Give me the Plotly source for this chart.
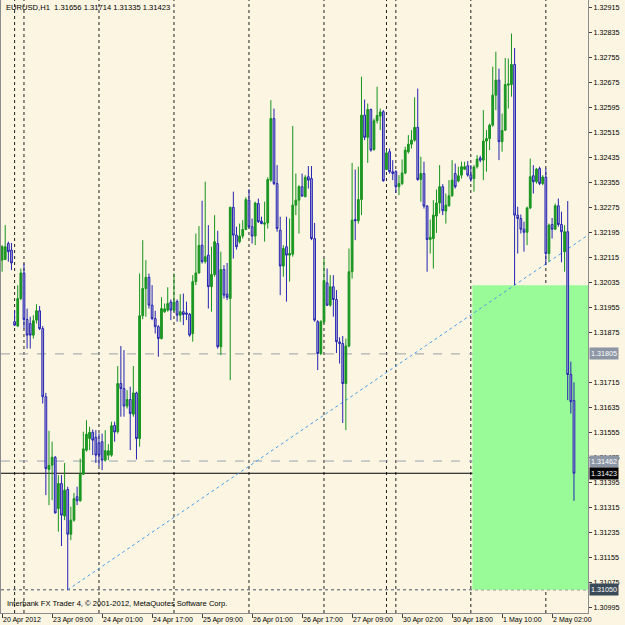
import plotly.graph_objects as go
import pandas as pd

symbol = "EURUSD,H1"
copyright_text = "Interbank FX Trader 4, \u00a9 2001-2012, MetaQuotes Software Corp."

# trading sessions visible on the chart (start, number of hourly bars)
sessions = [("2012-04-20 16:00", 4), ("2012-04-22 21:00", 3), ("2012-04-23 00:00", 116),
            ("2012-04-29 21:00", 3), ("2012-04-30 00:00", 58)]
times = []
for start, n in sessions:
    times += list(pd.date_range(start, periods=n, freq="h"))

opens = [1.32105, 1.32107, 1.32158, 1.32137, 1.31908, 1.31894, 1.31982, 1.32064, 1.31915, 1.31902,
         1.31865, 1.31913, 1.31943, 1.31886, 1.31668, 1.31435, 1.31449, 1.31474, 1.31310, 1.31390,
         1.31286, 1.31371, 1.31228, 1.31273, 1.31348, 1.31335, 1.31420, 1.31497, 1.31534, 1.31554,
         1.31538, 1.31520, 1.31524, 1.31465, 1.31481, 1.31481, 1.31576, 1.31556, 1.31710, 1.31694,
         1.31638, 1.31659, 1.31612, 1.31680, 1.31534, 1.31927, 1.32014, 1.32050, 1.31961, 1.31918,
         1.31892, 1.31854, 1.31940, 1.31945, 1.31971, 1.31945, 1.31973, 1.31929, 1.31940, 1.31936,
         1.31932, 1.31870, 1.32036, 1.32064, 1.32153, 1.32100, 1.32121, 1.32020, 1.32059, 1.32158,
         1.31828, 1.32075, 1.31996, 1.31982, 1.32274, 1.32185, 1.32164, 1.32182, 1.32203, 1.32297,
         1.32212, 1.32182, 1.32286, 1.32230, 1.32220, 1.32224, 1.32361, 1.32558, 1.32350, 1.32201,
         1.32086, 1.32148, 1.32121, 1.32124, 1.32281, 1.32297, 1.32340, 1.32308, 1.32372, 1.32366,
         1.32174, 1.31908, 1.31806, 1.31908, 1.32032, 1.31961, 1.32020, 1.31979, 1.31843, 1.31838,
         1.31710, 1.31830, 1.32068, 1.32235, 1.32231, 1.32299, 1.32569, 1.32498, 1.32587, 1.32459,
         1.32551, 1.32566, 1.32580, 1.32395, 1.32452, 1.32388, 1.32388, 1.32340, 1.32350, 1.32384,
         1.32452, 1.32476, 1.32489, 1.32530, 1.32363, 1.32382, 1.32278, 1.32171, 1.32174, 1.32246,
         1.32288, 1.32340, 1.32262, 1.32279, 1.32311, 1.32382, 1.32358, 1.32377, 1.32396, 1.32407,
         1.32377, 1.32366, 1.32404, 1.32432, 1.32425, 1.32486, 1.32494, 1.32537, 1.32633, 1.32681,
         1.32484, 1.32521, 1.32665, 1.32667, 1.32731, 1.32249, 1.32238, 1.32204, 1.32194, 1.32272,
         1.32375, 1.32356, 1.32398, 1.32350, 1.32371, 1.32126, 1.32219, 1.32204, 1.32279, 1.32219,
         1.32132, 1.32196, 1.31739, 1.31656]
highs = [1.32153, 1.32217, 1.32164, 1.32160, 1.31945, 1.32025, 1.32078, 1.32094, 1.31950, 1.31924,
         1.31929, 1.31964, 1.31958, 1.31894, 1.31680, 1.31559, 1.31524, 1.31478, 1.31417, 1.31417,
         1.31456, 1.31380, 1.31316, 1.31360, 1.31380, 1.31470, 1.31556, 1.31593, 1.31572, 1.31563,
         1.31561, 1.31550, 1.31550, 1.31561, 1.31516, 1.31588, 1.31588, 1.31766, 1.31830, 1.31817,
         1.31689, 1.31700, 1.31766, 1.31684, 1.32062, 1.32169, 1.32105, 1.32062, 1.32025, 1.31943,
         1.31897, 1.31986, 1.31966, 1.32018, 1.31979, 1.32062, 1.31979, 1.31996, 1.31998, 1.31972,
         1.31936, 1.32057, 1.32190, 1.32214, 1.32295, 1.32356, 1.32217, 1.32148, 1.32249, 1.32199,
         1.32132, 1.32089, 1.32096, 1.32276, 1.32324, 1.32212, 1.32222, 1.32233, 1.32306, 1.32332,
         1.32238, 1.32292, 1.32302, 1.32244, 1.32292, 1.32370, 1.32617, 1.32590, 1.32409, 1.32244,
         1.32153, 1.32244, 1.32238, 1.32534, 1.32382, 1.32345, 1.32382, 1.32377, 1.32406, 1.32406,
         1.32224, 1.31913, 1.31913, 1.32110, 1.32078, 1.32057, 1.32057, 1.32009, 1.31858, 1.31862,
         1.31854, 1.32142, 1.32416, 1.32395, 1.32404, 1.32692, 1.32619, 1.32606, 1.32590, 1.32558,
         1.32660, 1.32590, 1.32585, 1.32457, 1.32462, 1.32425, 1.32393, 1.32377, 1.32427, 1.32468,
         1.32505, 1.32521, 1.32626, 1.32654, 1.32436, 1.32420, 1.32281, 1.32235, 1.32297, 1.32331,
         1.32409, 1.32348, 1.32318, 1.32361, 1.32425, 1.32414, 1.32404, 1.32420, 1.32420, 1.32422,
         1.32409, 1.32409, 1.32441, 1.32439, 1.32585, 1.32521, 1.32542, 1.32724, 1.32772, 1.32718,
         1.32574, 1.32752, 1.32750, 1.32830, 1.32784, 1.32276, 1.32251, 1.32228, 1.32276, 1.32430,
         1.32409, 1.32400, 1.32404, 1.32377, 1.32398, 1.32222, 1.32240, 1.32286, 1.32302, 1.32260,
         1.32217, 1.32294, 1.31780, 1.31714]
lows = [1.32068, 1.32105, 1.32100, 1.32073, 1.31894, 1.31892, 1.31977, 1.31886, 1.31822, 1.31822,
        1.31854, 1.31902, 1.31881, 1.31646, 1.31353, 1.31321, 1.31337, 1.31294, 1.31236, 1.31190,
        1.31273, 1.31050, 1.31209, 1.31268, 1.31321, 1.31332, 1.31417, 1.31492, 1.31497, 1.31481,
        1.31456, 1.31446, 1.31433, 1.31460, 1.31465, 1.31476, 1.31524, 1.31550, 1.31604, 1.31604,
        1.31630, 1.31497, 1.31604, 1.31467, 1.31508, 1.31916, 1.31924, 1.31950, 1.31913, 1.31870,
        1.31796, 1.31851, 1.31936, 1.31940, 1.31913, 1.31940, 1.31908, 1.31908, 1.31897, 1.31913,
        1.31860, 1.31844, 1.32025, 1.32062, 1.32094, 1.32094, 1.31950, 1.31940, 1.32052, 1.31822,
        1.31801, 1.31982, 1.31977, 1.31721, 1.32110, 1.32139, 1.32158, 1.32174, 1.32201, 1.32206,
        1.32158, 1.32153, 1.32224, 1.32220, 1.32164, 1.32206, 1.32356, 1.32345, 1.32196, 1.31993,
        1.32052, 1.31972, 1.32036, 1.32116, 1.32249, 1.32190, 1.32308, 1.32306, 1.32334, 1.32169,
        1.31908, 1.31753, 1.31801, 1.31902, 1.31958, 1.31956, 1.31924, 1.31808, 1.31774, 1.31584,
        1.31561, 1.31826, 1.32046, 1.32169, 1.32222, 1.32249, 1.32489, 1.32416, 1.32452, 1.32455,
        1.32542, 1.32521, 1.32356, 1.32393, 1.32382, 1.32361, 1.32320, 1.32313, 1.32345, 1.32380,
        1.32446, 1.32462, 1.32484, 1.32359, 1.32292, 1.32270, 1.32068, 1.32126, 1.32078, 1.32192,
        1.32254, 1.32249, 1.32222, 1.32276, 1.32308, 1.32334, 1.32354, 1.32366, 1.32393, 1.32372,
        1.32356, 1.32324, 1.32398, 1.32418, 1.32361, 1.32388, 1.32457, 1.32532, 1.32585, 1.32425,
        1.32452, 1.32518, 1.32590, 1.32628, 1.32025, 1.32126, 1.32190, 1.32132, 1.32153, 1.32268,
        1.32318, 1.32350, 1.32345, 1.32345, 1.32089, 1.32100, 1.32174, 1.32201, 1.32212, 1.32098,
        1.32068, 1.31657, 1.31614, 1.31335]
closes = [1.32148, 1.32148, 1.32132, 1.32096, 1.31897, 1.31982, 1.32064, 1.31915, 1.31865, 1.31865,
          1.31911, 1.31943, 1.31886, 1.31668, 1.31438, 1.31448, 1.31474, 1.31296, 1.31390, 1.31289,
          1.31369, 1.31228, 1.31273, 1.31342, 1.31335, 1.31420, 1.31501, 1.31548, 1.31554, 1.31529,
          1.31481, 1.31481, 1.31465, 1.31495, 1.31495, 1.31575, 1.31555, 1.31710, 1.31694, 1.31638,
          1.31659, 1.31614, 1.31680, 1.31534, 1.31927, 1.32014, 1.32050, 1.31961, 1.31918, 1.31892,
          1.31854, 1.31950, 1.31949, 1.31966, 1.31945, 1.31971, 1.31929, 1.31940, 1.31931, 1.31932,
          1.31865, 1.32036, 1.32064, 1.32152, 1.32100, 1.32116, 1.32020, 1.32059, 1.32164, 1.31828,
          1.32075, 1.31993, 1.31986, 1.32274, 1.32185, 1.32148, 1.32182, 1.32203, 1.32299, 1.32212,
          1.32182, 1.32288, 1.32228, 1.32222, 1.32224, 1.32363, 1.32558, 1.32350, 1.32206, 1.32086,
          1.32142, 1.32121, 1.32126, 1.32281, 1.32297, 1.32340, 1.32310, 1.32370, 1.32361, 1.32174,
          1.31913, 1.31806, 1.31908, 1.32039, 1.31961, 1.32020, 1.31979, 1.31844, 1.31838, 1.31710,
          1.31830, 1.32068, 1.32233, 1.32231, 1.32299, 1.32569, 1.32498, 1.32587, 1.32457, 1.32551,
          1.32568, 1.32579, 1.32359, 1.32448, 1.32388, 1.32382, 1.32340, 1.32350, 1.32384, 1.32457,
          1.32476, 1.32489, 1.32530, 1.32363, 1.32382, 1.32278, 1.32171, 1.32178, 1.32249, 1.32288,
          1.32340, 1.32263, 1.32281, 1.32311, 1.32361, 1.32340, 1.32375, 1.32404, 1.32404, 1.32377,
          1.32364, 1.32403, 1.32428, 1.32425, 1.32486, 1.32494, 1.32537, 1.32633, 1.32681, 1.32484,
          1.32520, 1.32667, 1.32669, 1.32731, 1.32249, 1.32238, 1.32204, 1.32194, 1.32272, 1.32372,
          1.32356, 1.32396, 1.32350, 1.32371, 1.32126, 1.32217, 1.32204, 1.32279, 1.32219, 1.32196,
          1.32196, 1.31739, 1.31652, 1.31423]

# horizontal levels drawn on the chart (price, line colour, dash, label box colour)
levels = [(1.31805, "#9AA0A8", "dash", "#8C96A4"),
          (1.31462, "#9AA4B4", "dash", "#8C96A4"),
          (1.31050, "#4A5666", "dot", "#3A4A58")]
bid_price = closes[-1]

# trend line anchors (bar index, price) and highlighted rectangle
trend_a = (21, 1.31050)
trend_b = (164, 1.32025)
rect_start_bar = 151
rect_top, rect_bottom = 1.32025, 1.31050

# price-scale labels visible on the right axis (1.31795 is covered by the 1.31805 box)
price_ticks = [1.30995, 1.31075, 1.31155, 1.31235, 1.31315, 1.31395, 1.31475, 1.31555, 1.31635,
               1.31715, 1.31875, 1.31955, 1.32035, 1.32115, 1.32195, 1.32275, 1.32355, 1.32435,
               1.32515, 1.32595, 1.32675, 1.32755, 1.32835, 1.32915]
tick_labels = ["20 Apr 2012", "23 Apr 09:00", "24 Apr 01:00", "24 Apr 17:00", "25 Apr 09:00",
               "26 Apr 01:00", "26 Apr 17:00", "27 Apr 09:00", "30 Apr 02:00", "30 Apr 18:00",
               "1 May 10:00", "2 May 02:00"]
tick_step = 16

n = len(times)
idx = list(range(n))
x_lo, x_hi = -0.352, 187.49
y_lo, y_hi = 1.309758, 1.329374

BG = "#FBF5E1"
FONT = "Liberation Sans"

fig = go.Figure()
fig.add_trace(go.Candlestick(
    x=idx, open=opens, high=highs, low=lows, close=closes,
    increasing=dict(line=dict(color="#17941F", width=1), fillcolor="#1E9A26"),
    decreasing=dict(line=dict(color="#2424B0", width=1), fillcolor="#B4AED4"),
    whiskerwidth=0, hoverinfo="skip", showlegend=False,
))

shapes = []
shapes.append(dict(type="rect", xref="x", yref="y", x0=rect_start_bar - 0.5, x1=x_hi,
                   y0=rect_bottom, y1=rect_top, fillcolor="#98FB98", line=dict(width=0), layer="below"))
for i in range(1, n):
    if times[i].date() != times[i - 1].date():
        shapes.append(dict(type="line", xref="x", yref="paper", x0=i, x1=i, y0=0, y1=1,
                           line=dict(color="#202020", width=1, dash="dot"), layer="below"))
for p, c, d, _ in levels:
    shapes.append(dict(type="line", xref="paper", yref="y", x0=0, x1=1, y0=p, y1=p,
                       line=dict(color=c, width=1, dash=d), layer="below"))
slope = (trend_b[1] - trend_a[1]) / (trend_b[0] - trend_a[0])
shapes.append(dict(type="line", xref="x", yref="y", x0=trend_a[0], y0=trend_a[1],
                   x1=x_hi, y1=trend_a[1] + slope * (x_hi - trend_a[0]),
                   line=dict(color="#4A9EEA", width=1, dash="dot"), layer="below"))
shapes.append(dict(type="line", xref="paper", yref="y", x0=0, x1=1, y0=bid_price, y1=bid_price,
                   line=dict(color="#000000", width=1), layer="below"))

annotations = []
annotations.append(dict(xref="paper", yref="paper", x=0, y=1, xanchor="left", yanchor="top",
                        xshift=3, yshift=-1, showarrow=False,
                        text=f"{symbol}  {opens[-1]:.5f} {highs[-1]:.5f} {lows[-1]:.5f} {closes[-1]:.5f}",
                        font=dict(family=FONT, size=7.6, color="#000000")))
annotations.append(dict(xref="paper", yref="paper", x=0, y=0, xanchor="left", yanchor="bottom",
                        xshift=4, yshift=3, showarrow=False, text=copyright_text,
                        font=dict(family=FONT, size=7.6, color="#000000")))
for p, _, _, box in levels:
    annotations.append(dict(xref="paper", yref="y", x=1, y=p, xanchor="left", yanchor="middle",
                            xshift=1, showarrow=False, text=f"{p:.5f}", bgcolor=box, borderpad=1,
                            font=dict(family=FONT, size=7.2, color="#FFFFFF")))
annotations.append(dict(xref="paper", yref="y", x=1, y=bid_price, xanchor="left", yanchor="middle",
                        xshift=1, showarrow=False, text=f"{bid_price:.5f}", bgcolor="#000000",
                        borderpad=1, font=dict(family=FONT, size=7.2, color="#FFFFFF")))

fig.update_layout(
    width=625, height=625,
    margin=dict(l=1, r=37, t=0, b=12),
    paper_bgcolor=BG, plot_bgcolor=BG,
    shapes=shapes, annotations=annotations,
    showlegend=False, boxgap=0.2,
    xaxis=dict(range=[x_lo, x_hi], rangeslider=dict(visible=False), showgrid=False, zeroline=False,
               tickmode="array", tickvals=idx[::tick_step], ticktext=tick_labels,
               ticks="outside", ticklen=4, tickcolor="#404040", ticklabelposition="outside right",
               tickfont=dict(family=FONT, size=7, color="#000000"),
               showline=True, linecolor="#8C8C8C", linewidth=1),
    yaxis=dict(range=[y_lo, y_hi], side="right", showgrid=False, zeroline=False,
               tickmode="array", tickvals=price_ticks, ticktext=[f"{v:.5f}" for v in price_ticks],
               ticks="outside", ticklen=3, tickcolor="#404040",
               tickfont=dict(family=FONT, size=7.2, color="#000000"),
               showline=True, mirror=True, linecolor="#8C8C8C", linewidth=1),
)

fig.write_html("out.html")
